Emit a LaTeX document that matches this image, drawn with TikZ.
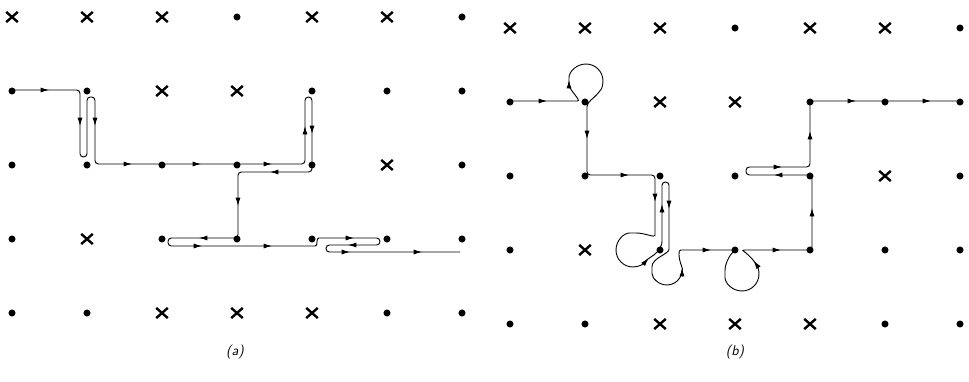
\documentclass[tikz,border=0pt]{standalone}
\usepackage{tikz}
\usetikzlibrary{arrows.meta, shapes.misc}

\begin{document}
\begin{tikzpicture}[x=0.025cm, y=0.025cm,
  site/.style={circle, fill=black, inner sep=0pt, minimum size=5pt},
  blocked/.style={cross out, draw, line width=1.7pt, inner sep=0pt, minimum width=6.5pt, minimum height=5.5pt},
  walk/.style={line width=0.65pt, rounded corners=2.4pt},
  walkarrow/.style={line width=0.65pt, -{Latex[length=6pt, width=3.6pt]}},
  caption/.style={font=\sffamily\itshape}]
\useasboundingbox (0,0) rectangle (969,-382);
% lattice: dots are free sites, crosses are blocked
\foreach \p/\ox/\oy in {a/12/17, b/510/28} {
  \foreach \c/\r in {3/0, 6/0, 0/1, 1/1, 4/1, 5/1, 6/1, 0/2, 1/2, 2/2, 3/2, 4/2, 6/2, 0/3, 2/3, 3/3, 4/3, 5/3, 6/3, 0/4, 1/4, 5/4, 6/4}
    \node[site] (\p\c\r) at (\ox+75*\c, -\oy-74*\r) {};
  \foreach \c/\r in {0/0, 1/0, 2/0, 4/0, 5/0, 2/1, 3/1, 5/2, 1/3, 2/4, 3/4, 4/4}
    \node[blocked] (\p\c\r) at (\ox+75*\c, -\oy-74*\r) {};
}
% walk (a)
\draw[walk] (12,-90) -- (80,-90) -- (80,-157) -- (87,-157) -- (87,-97) -- (95,-97) -- (95,-164)
  -- (305,-164) -- (305,-97) -- (312,-97) -- (312,-172) -- (238,-172) -- (238,-238)
  -- (168,-238) -- (168,-246) -- (312,-246) .. controls (318,-246) and (316,-238) .. (322,-238)
  -- (380,-238) -- (380,-245) -- (326,-245) -- (326,-252) -- (460,-252);
\foreach \x/\y/\a in {45/90/0, 80/122/-90, 95/122/-90, 128/164/0, 197/164/0, 268/164/0, 305/130/90, 312/130/-90,
  274/172/180, 238/202/-90, 203/238/180, 198/246/0, 268/246/0, 350/238/0, 352/245/180, 346/252/0, 418/252/0}
  \draw[walkarrow] (\x,-\y) ++(\a:-4) -- ++(\a:8);
% walk (b)
\draw[walk] (510,-101) -- (574,-101) .. controls (582,-101) and (569,-90) .. (569,-81)
  arc[start angle=180, end angle=-40, radius=17] .. controls (594,-98) and (587,-102) .. (587,-110)
  -- (587,-175) -- (655,-175) -- (655,-232) .. controls (655,-238) and (645,-233) .. (633,-233)
  arc[start angle=90, end angle=330, radius=17] .. controls (655,-255) and (662,-248) .. (662,-238)
  -- (662,-182) -- (669,-182) -- (669,-246) .. controls (669,-254) and (652,-258) .. (652,-270)
  arc[start angle=180, end angle=380, radius=15] .. controls (679,-258) and (678,-250) .. (684,-250)
  -- (735,-250) .. controls (730,-255) and (725,-263) .. (725,-274)
  arc[start angle=180, end angle=395, radius=17] .. controls (752,-258) and (745,-252) .. (741,-250)
  -- (812,-250) -- (812,-175) -- (746,-175) -- (746,-167) -- (810,-167) -- (810,-101) -- (962,-101);
\foreach \x/\y/\a in {543/101/0, 569/84/90, 587/135/-90, 625/175/0, 655/198/-90, 646/261/50, 662/208/90,
  669/205/-90, 682/272/90, 707/250/0, 756/264/125, 777/250/0, 812/212/90, 778/175/180, 778/167/0,
  810/135/90, 852/101/0, 927/101/0}
  \draw[walkarrow] (\x,-\y) ++(\a:-4) -- ++(\a:8);
\node[caption] (capa) at (235,-352) {(a)};
\node[caption] (capb) at (735,-352) {(b)};
\end{tikzpicture}
\end{document}
